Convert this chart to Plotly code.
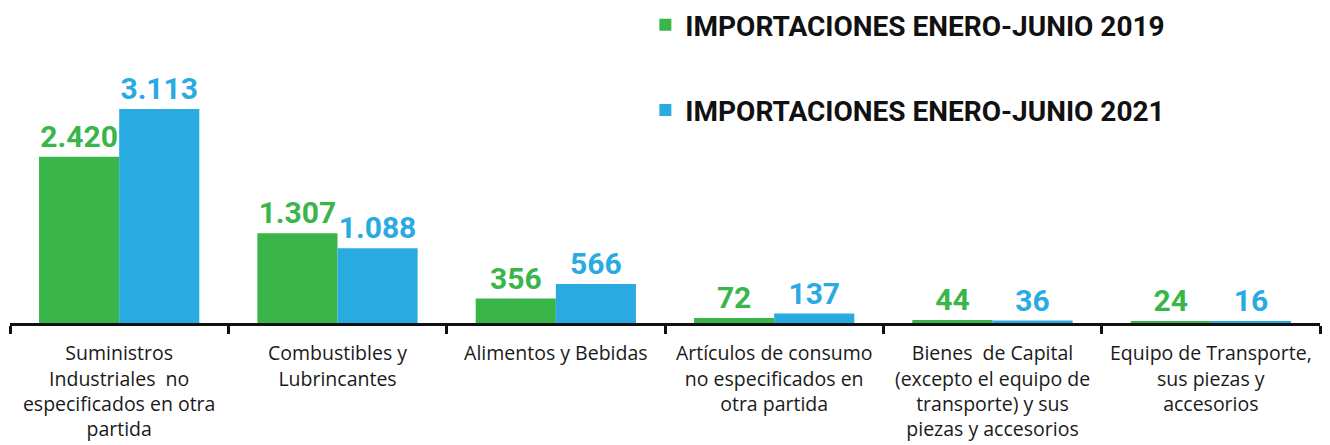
import plotly.graph_objects as go

categories = [
    "Suministros<br>Industriales  no<br>especificados en otra<br>partida",
    "Combustibles y<br>Lubrincantes",
    "Alimentos y Bebidas",
    "Artículos de consumo<br>no especificados en<br>otra partida",
    "Bienes  de Capital<br>(excepto el equipo de<br>transporte) y sus<br>piezas y accesorios",
    "Equipo de Transporte,<br>sus piezas y<br>accesorios",
]
vals_2019 = [2420, 1307, 356, 72, 44, 24]
vals_2021 = [3113, 1088, 566, 137, 36, 16]
name_2019 = "IMPORTACIONES ENERO-JUNIO 2019"
name_2021 = "IMPORTACIONES ENERO-JUNIO 2021"

GREEN = "#3AB54A"
BLUE = "#29ABE2"
FONT = "Roboto"
TICKFONT = "Open Sans"

fig = go.Figure()
fig.add_trace(go.Bar(
    x=categories, y=vals_2019, name=name_2019, legendgroup="a",
    marker=dict(color=GREEN, line=dict(width=0)),
    texttemplate="%{y:,}", textposition="outside", cliponaxis=False,
    textfont=dict(family=FONT, size=30, color=GREEN, weight="bold"),
))
fig.add_trace(go.Bar(
    x=categories, y=vals_2021, name=name_2021, legendgroup="b",
    marker=dict(color=BLUE, line=dict(width=0)),
    texttemplate="%{y:,}", textposition="outside", cliponaxis=False,
    textfont=dict(family=FONT, size=30, color=BLUE, weight="bold"),
))

# the page body adds an 8px offset on the left and top
TOP = 12
PLOT_H = 303
fig.update_layout(
    width=1322, height=437,
    margin=dict(l=2, r=10, t=TOP, b=122, autoexpand=False),
    paper_bgcolor="white", plot_bgcolor="white",
    separators=",.",
    barmode="group", bargap=0.266, bargroupgap=0,
    font=dict(family=FONT, color="#1a1a1a"),
    legend=dict(
        x=0.485, y=1.0 + (TOP + 8) / PLOT_H, xanchor="left", yanchor="top",
        orientation="v", tracegroupgap=46,
        font=dict(family=FONT, size=28, color="#111111", weight="bold"),
        bgcolor="rgba(0,0,0,0)",
    ),
    xaxis=dict(
        showline=True, linecolor="#111111", linewidth=3,
        ticks="outside", tickson="boundaries", ticklen=8, tickwidth=3,
        tickcolor="#111111", tickfont=dict(family=TICKFONT, size=19.5, color="#1a1a1a"),
        ticklabelstandoff=11,
        showgrid=False, zeroline=False, automargin=False,
    ),
    yaxis=dict(
        range=[0, 4410], visible=False, showgrid=False, zeroline=False,
        automargin=False,
    ),
)

fig.write_html("out.html")
